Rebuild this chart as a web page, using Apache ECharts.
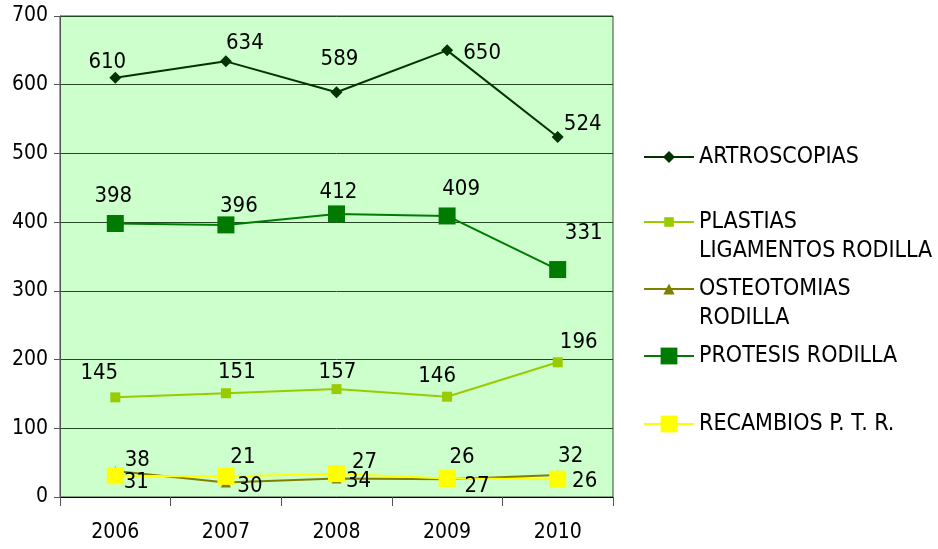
<!DOCTYPE html>
<html>
<head>
<meta charset="utf-8">
<script src="https://cdn.jsdelivr.net/npm/echarts@6/dist/echarts.min.js"></script>
<style>
  html, body { margin: 0; padding: 0; background: #fff; }
  #chart { width: 938px; height: 549px; }
</style>
</head>
<body>
<div id="chart"></div>
<script>
  // years on the x axis
  var years = ['2006', '2007', '2008', '2009', '2010'];
  var yTicks = [0, 100, 200, 300, 400, 500, 600, 700];

  // series values
  var artroscopias = [610, 634, 589, 650, 524];
  var plastias = [145, 151, 157, 146, 196];
  var osteotomias = [38, 21, 27, 26, 32];
  var protesis = [398, 396, 412, 409, 331];
  var recambios = [31, 30, 34, 27, 26];

  // where each value label sits relative to its point (dx, dy)
  var shiftArtro = [[-8, -16], [19, -18], [3, -33], [35, 3], [25, -13]];
  var shiftPlastias = [[-16, -24], [11, -21], [1, -17], [-10, -20], [21, -20]];
  var shiftOsteo = [[22, -11], [17, -25], [28, -16], [15, -22], [13, -19]];
  var shiftProtesis = [[-2, -27], [13, -19], [2, -22], [14, -27], [26, -36]];
  var shiftRecambios = [[21, 7], [24, 10], [22, 8], [30, 8], [27, 2]];

  var font = '"DejaVu Sans Condensed", "DejaVu Sans", sans-serif';

  function withLabels(values, shifts) {
    return values.map(function (v, i) {
      return { value: v, label: { offset: shifts[i] } };
    });
  }

  function makeSeries(name, values, shifts, color, symbol, size) {
    return {
      name: name,
      type: 'line',
      data: withLabels(values, shifts),
      symbol: symbol,
      symbolSize: size,
      lineStyle: { color: color, width: 2 },
      itemStyle: { color: color },
      label: {
        show: true,
        position: 'inside',
        color: '#000',
        fontFamily: font,
        fontSize: 22
      },
      emphasis: { disabled: true },
      animation: false
    };
  }

  // one legend per entry so the gaps match the picture;
  // two-line names get an empty first line so the icon sits on the first text line
  function makeLegend(name, lines, center, iconH) {
    var lh = 29;
    var text = lines.length > 1 ? '\n' + lines.join('\n') : lines[0];
    var total = lines.length > 1 ? lines.length * 2 - 1 : 1;
    return {
      data: [name],
      left: 643,
      top: center - (total * lh) / 2,
      padding: 0,
      itemWidth: 50,
      itemHeight: iconH,
      itemGap: 0,
      selectedMode: false,
      formatter: text,
      textStyle: {
        fontFamily: font,
        fontSize: 23,
        color: '#000',
        lineHeight: lh
      }
    };
  }

  var chart = echarts.init(document.getElementById('chart'));
  chart.setOption({
    animation: false,
    grid: {
      left: 60,
      top: 16,
      right: 325,
      bottom: 52,
      show: true,
      backgroundColor: '#ccffcc',
      borderColor: '#2f4f2f',
      borderWidth: 1
    },
    legend: [
      makeLegend('ARTROSCOPIAS', ['ARTROSCOPIAS'], 157, 15),
      makeLegend('PLASTIAS LIGAMENTOS RODILLA', ['PLASTIAS', 'LIGAMENTOS RODILLA'], 222, 12),
      makeLegend('OSTEOTOMIAS RODILLA', ['OSTEOTOMIAS', 'RODILLA'], 289, 14),
      makeLegend('PROTESIS RODILLA', ['PROTESIS RODILLA'], 356, 21),
      makeLegend('RECAMBIOS P. T. R.', ['RECAMBIOS P. T. R.'], 424, 21)
    ],
    xAxis: {
      type: 'category',
      data: years,
      boundaryGap: true,
      axisLine: { lineStyle: { color: '#000', width: 1 } },
      axisTick: { show: true, alignWithLabel: false, length: 9, lineStyle: { color: '#555' } },
      axisLabel: { fontFamily: font, fontSize: 21, color: '#000', margin: 25 },
      splitLine: { show: false }
    },
    yAxis: {
      type: 'value',
      min: yTicks[0],
      max: yTicks[yTicks.length - 1],
      interval: 100,
      axisLine: { show: true, lineStyle: { color: '#555' } },
      axisTick: { show: true, length: 6, lineStyle: { color: '#555' } },
      axisLabel: { fontFamily: font, fontSize: 21, color: '#000', margin: 12 },
      splitLine: { show: true, lineStyle: { color: '#264626', width: 1 } }
    },
    series: [
      makeSeries('ARTROSCOPIAS', artroscopias, shiftArtro, '#003300', 'diamond', 12),
      makeSeries('PLASTIAS LIGAMENTOS RODILLA', plastias, shiftPlastias, '#99cc00', 'rect', 10),
      makeSeries('OSTEOTOMIAS RODILLA', osteotomias, shiftOsteo, '#808000', 'triangle', 10),
      makeSeries('PROTESIS RODILLA', protesis, shiftProtesis, '#007a00', 'rect', 17),
      makeSeries('RECAMBIOS P. T. R.', recambios, shiftRecambios, '#ffff00', 'rect', 17)
    ]
  });
</script>
</body>
</html>
